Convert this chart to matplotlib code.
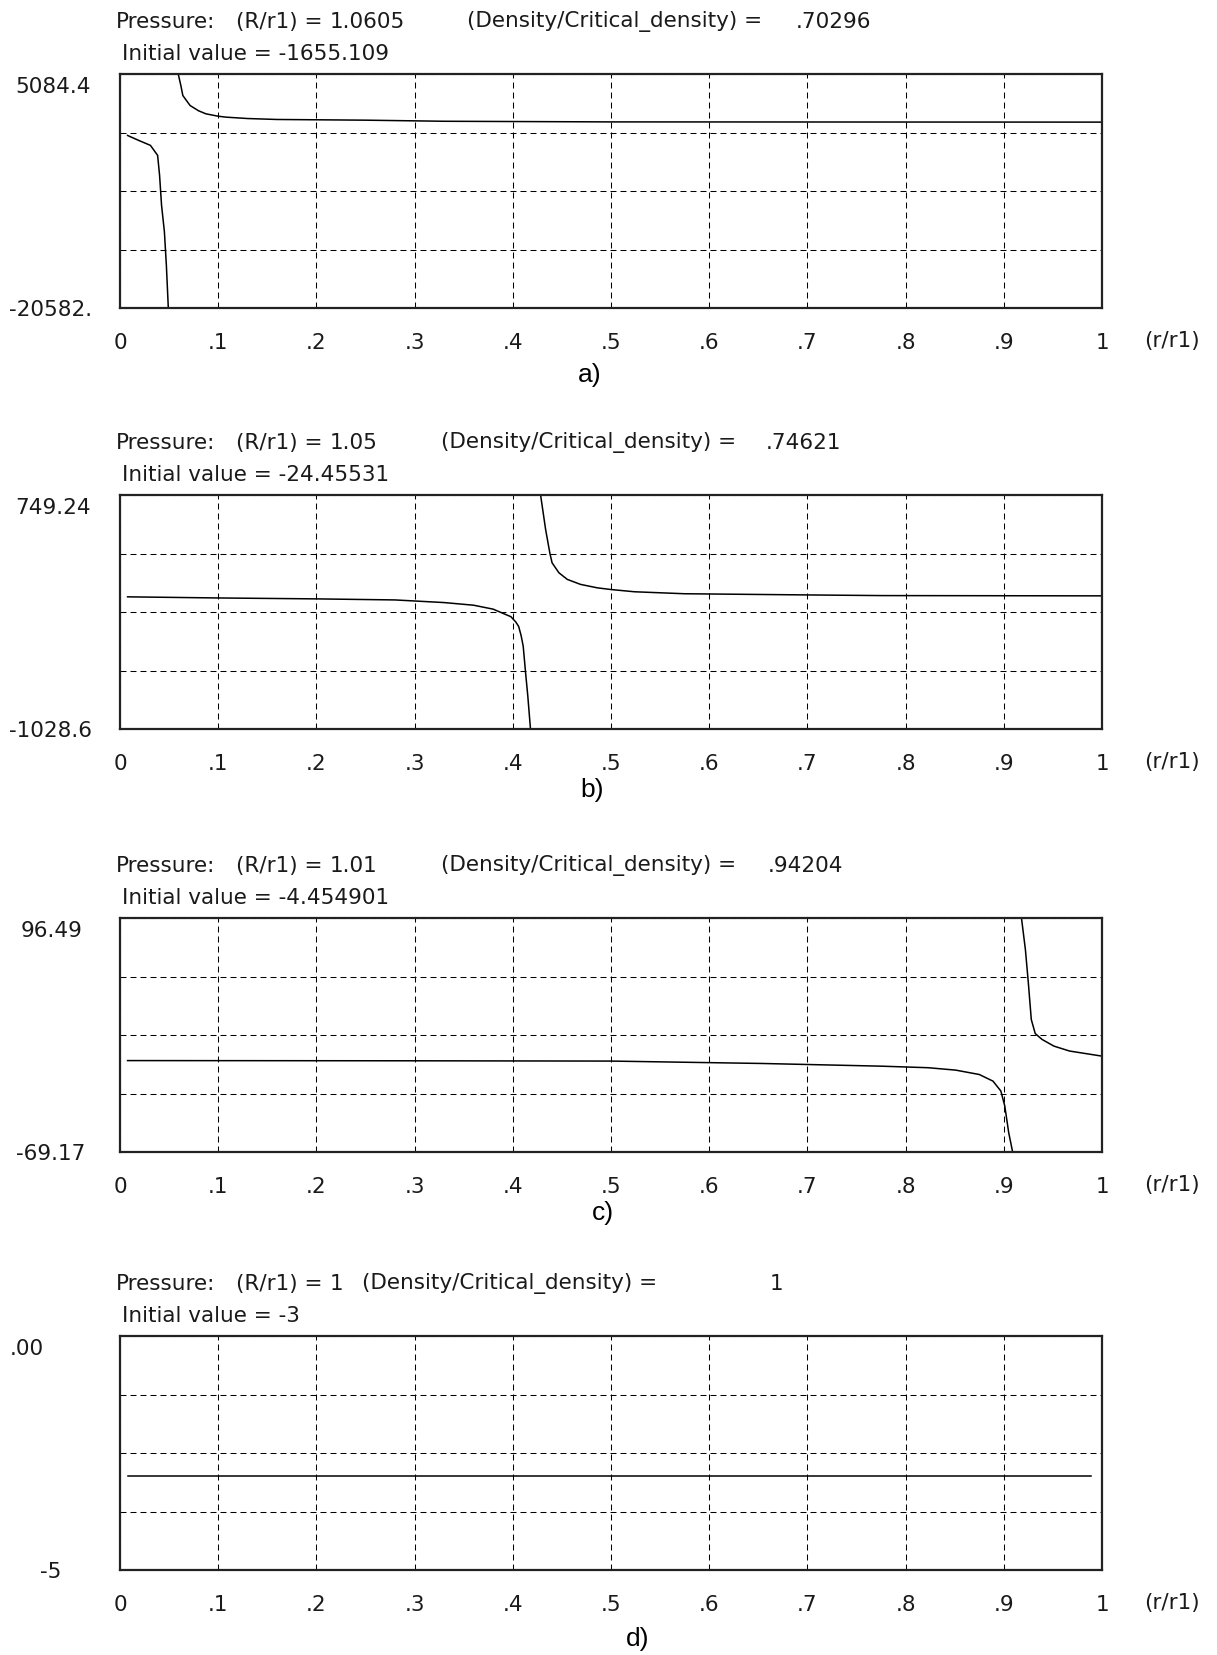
import numpy as np
import matplotlib
matplotlib.use("Agg")
import matplotlib.pyplot as plt

# ---- values ----
panel_tags = ['a)', 'b)', 'c)', 'd)']
r_ratio = ['1.0605', '1.05', '1.01', '1']
density_ratio = ['.70296', '.74621', '.94204', '1']
initial_value = ['-1655.109', '-24.45531', '-4.454901', '-3']
y_top = [5084.4, 749.24, 96.49, 0.0]
y_bottom = [-20582.0, -1028.6, -69.17, -5.0]
y_top_labels = ['5084.4', '749.24', '96.49', '.00']
y_bottom_labels = ['-20582.', '-1028.6', '-69.17', '-5']
x_ticks = [0, .1, .2, .3, .4, .5, .6, .7, .8, .9, 1]
x_tick_labels = ['0', '.1', '.2', '.3', '.4', '.5', '.6', '.7', '.8', '.9', '1']

# a) R/r1 = 1.0605
a_left_x = [0.0077, 0.019, 0.031, 0.0383, 0.0403, 0.0423, 0.0452, 0.0472, 0.0492, 0.0497]
a_left_y = [-1655, -2198, -2744, -3836, -6021, -9298, -12211, -15852, -20582, -22000]
a_right_x = [0.0585, 0.0593, 0.062, 0.064, 0.0714, 0.08, 0.0875, 0.0996, 0.108, 0.13, 0.16,
             0.25, 0.33, 0.5, 1.0]
a_right_y = [6000, 5084, 3800, 2718, 1626, 1050, 716, 461, 351, 200, 96, 20, -100, -170, -194]

# b) R/r1 = 1.05
b_left_x = [0.0077, 0.1, 0.2, 0.28, 0.33, 0.36, 0.38, 0.39, 0.398, 0.403, 0.406, 0.4085,
            0.4106, 0.413, 0.4153, 0.418, 0.4185]
b_left_y = [-24.5, -33, -40, -48, -68, -88, -118, -150, -175, -215, -250, -320,
            -400, -600, -780, -1028.6, -1100]
b_right_x = [0.428, 0.4283, 0.4334, 0.4378, 0.44, 0.447, 0.4555, 0.469, 0.486, 0.5, 0.524,
             0.575, 0.7, 0.776, 1.0]
b_right_y = [800, 749, 488, 305, 234, 158, 108, 70, 44, 31, 14, -1, -10, -15, -17]

# c) R/r1 = 1.01
c_left_x = [0.0077, 0.3, 0.5, 0.654, 0.775, 0.823, 0.851, 0.875, 0.889, 0.897, 0.901,
            0.905, 0.909, 0.9095]
c_left_y = [-4.45, -4.6, -4.8, -6.5, -8.4, -9.5, -11.2, -14.3, -19, -26, -36.6,
            -55.5, -69.17, -75]
c_right_x = [0.9178, 0.918, 0.922, 0.925, 0.928, 0.932, 0.939, 0.951, 0.967, 1.0]
c_right_y = [100, 96.49, 74.1, 50.5, 24.6, 14.7, 10.5, 5.8, 2.3, -1.3]

# d) R/r1 = 1
d_x = [0.0077, 0.989]
d_y = [-3, -3]

curves = [
    [(a_left_x, a_left_y), (a_right_x, a_right_y)],
    [(b_left_x, b_left_y), (b_right_x, b_right_y)],
    [(c_left_x, c_left_y), (c_right_x, c_right_y)],
    [(d_x, d_y)],
]

# ---- layout (pixels of the 1217x1656 picture) ----
W, H = 1217, 1656
ax_left, ax_right, ax_h = 120, 1102, 234
ax_tops = [75, 496, 919, 1337]
density_label_x = [467, 441, 441, 362]
density_value_x = [796, 766, 768, 770]
tag_x = [590, 592, 603, 638]
tag_dy = [66, 60, 60, 68]
ylab_top_x = [53, 53, 52, 10]

plt.rcParams['lines.scale_dashes'] = False
small = dict(family=['DejaVu Sans'], fontsize=15.5, color='#1a1a1a')
big = dict(family=['Liberation Sans', 'DejaVu Sans'], fontsize=19, color='black')

fig = plt.figure(figsize=(W / 100, H / 100), dpi=100)


def ftext(x, y, s, **kw):
    fig.text(x / W, 1 - y / H, s, **kw)


for i in range(4):
    top = ax_tops[i]
    bot = top + ax_h
    ax = fig.add_axes([ax_left / W, 1 - bot / H, (ax_right - ax_left) / W, ax_h / H])
    for xs, ys in curves[i]:
        ax.plot(xs, ys, color='black', lw=1.1)
    ax.set_xlim(0, 1)
    ax.set_ylim(y_bottom[i], y_top[i])
    ax.set_xticks(x_ticks, x_tick_labels, fontfamily='DejaVu Sans', fontsize=15.5, color='#1a1a1a')
    ax.set_yticks(np.linspace(y_bottom[i], y_top[i], 5), [])
    ax.tick_params(length=0, pad=17)
    ax.grid(True, color='black', lw=0.75, linestyle=(0, (4.3, 2.9)))
    for sp in ax.spines.values():
        sp.set_linewidth(1.6)
        sp.set_color('#222222')

    # two title lines above the box
    ftext(116, top - 53, 'Pressure:', va='center', ha='left', **small)
    ftext(236, top - 53, '(R/r1) =', va='center', ha='left', **small)
    ftext(330, top - 53, r_ratio[i], va='center', ha='left', **small)
    ftext(density_label_x[i], top - 53, '(Density/Critical_density) =', va='center', ha='left', **small)
    ftext(density_value_x[i], top - 53, density_ratio[i], va='center', ha='left', **small)
    ftext(122, top - 21, 'Initial value = ' + initial_value[i], va='center', ha='left', **small)

    # y range labels
    ha_top = 'left' if i == 3 else 'center'
    ftext(ylab_top_x[i], top + 2, y_top_labels[i], va='top', ha=ha_top, **small)
    ftext(51, bot + 1, y_bottom_labels[i], va='center', ha='center', **small)

    ftext(1172, bot + 32, '(r/r1)', va='center', ha='center', **small)
    ftext(tag_x[i], bot + tag_dy[i], panel_tags[i], va='center', ha='center', **big)

fig.savefig('out.png', dpi=100, facecolor='white')
